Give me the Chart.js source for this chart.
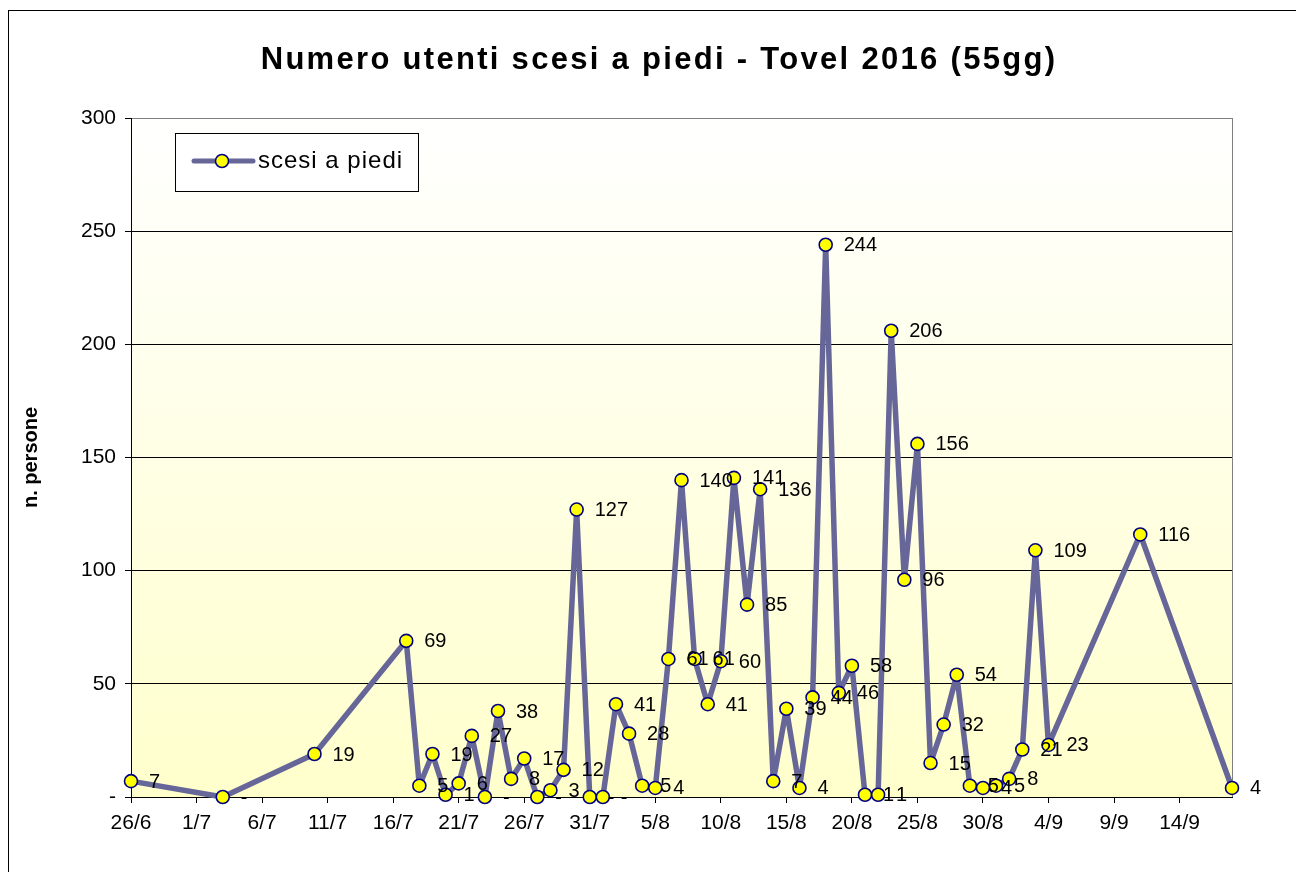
<!DOCTYPE html>
<html>
<head>
<meta charset="utf-8">
<title>Numero utenti scesi a piedi - Tovel 2016</title>
<script src="https://cdn.jsdelivr.net/npm/chart.js@4.4.1/dist/chart.umd.min.js"></script>
<style>
    html, body { margin: 0; padding: 0; background: #fff; }
    #wrap { width: 1296px; height: 872px; }
</style>
</head>
<body>
<div id="wrap"><canvas id="chart" width="1296" height="872"></canvas></div>
<script>
// Data
const chartTitle = 'Numero utenti scesi a piedi - Tovel 2016 (55gg)';
const seriesName = 'scesi a piedi';
const yAxisTitle = 'n. persone';

const dates = [
    '26/6', '3/7', '10/7',
    '17/7', '18/7', '19/7', '20/7', '21/7', '22/7', '23/7', '24/7', '25/7', '26/7',
    '27/7', '28/7', '29/7', '30/7', '31/7', '1/8', '2/8', '3/8', '4/8', '5/8',
    '6/8', '7/8', '8/8', '9/8', '10/8', '11/8', '12/8', '13/8', '14/8', '15/8',
    '16/8', '17/8', '18/8', '19/8', '20/8', '21/8', '22/8', '23/8', '24/8', '25/8',
    '26/8', '27/8', '28/8', '29/8', '30/8', '31/8', '1/9', '2/9', '3/9', '4/9',
    '11/9', '18/9'
];
const walkers = [
    7, 0, 19,
    69, 5, 19, 1, 6, 27, 0, 38, 8, 17,
    0, 3, 12, 127, 0, 0, 41, 28, 5, 4,
    61, 140, 61, 41, 60, 141, 85, 136, 7, 39,
    4, 44, 244, 46, 58, 1, 1, 206, 96, 156,
    15, 32, 54, 5, 4, 5, 8, 21, 109, 23,
    116, 4
];
const yMin = 0;
const yMax = 300;
const yStep = 50;
const xStep = 5;      // days between x tick labels
const xEndDate = '18/9';
const YEAR = 2016;

// Helpers: day offsets from the first date
const DAY = 86400000;
function parseDate(s) {
    const [d, m] = s.split('/').map(Number);
    return Date.UTC(YEAR, m - 1, d);
}
const startTime = parseDate(dates[0]);
function dayIndex(s) {
    return Math.round((parseDate(s) - startTime) / DAY);
}
function dayLabel(n) {
    const dt = new Date(startTime + n * DAY);
    return dt.getUTCDate() + '/' + (dt.getUTCMonth() + 1);
}
function fmt(v) {
    return v === 0 ? '-' : String(v);
}

const points = dates.map((d, i) => ({ x: dayIndex(d), y: walkers[i] }));

const FONT = "'Liberation Sans', Arial, sans-serif";
const LINE_COLOR = '#666699';
const MARKER_FILL = '#ffff00';
const MARKER_EDGE = '#000080';

// Background, frame, plot border
const plotBackground = {
    id: 'plotBackground',
    beforeDraw(chart) {
        const { ctx, chartArea: a } = chart;
        ctx.save();
        ctx.strokeStyle = '#000';
        ctx.lineWidth = 1;
        ctx.strokeRect(8.5, 10.5, 1400, 1000);
        const g = ctx.createLinearGradient(0, a.top, 0, a.bottom);
        g.addColorStop(0, '#ffffff');
        g.addColorStop(1, '#ffffcc');
        ctx.fillStyle = g;
        ctx.fillRect(a.left, a.top, a.right - a.left, a.bottom - a.top);
        ctx.restore();
    },
    beforeDatasetsDraw(chart) {
        const { ctx, chartArea: a } = chart;
        ctx.save();
        ctx.strokeStyle = '#808080';
        ctx.lineWidth = 1;
        ctx.beginPath();
        ctx.moveTo(Math.round(a.right) + 0.5, a.top);
        ctx.lineTo(Math.round(a.right) + 0.5, a.bottom);
        ctx.stroke();
        ctx.restore();
    }
};

// Value labels to the right of each point
const valueLabels = {
    id: 'valueLabels',
    afterDatasetsDraw(chart) {
        const { ctx } = chart;
        const meta = chart.getDatasetMeta(0);
        ctx.save();
        ctx.font = '20px ' + FONT;
        ctx.fillStyle = '#000';
        ctx.textAlign = 'left';
        ctx.textBaseline = 'middle';
        meta.data.forEach((pt, i) => {
            ctx.fillText(fmt(walkers[i]), pt.x + 18, pt.y + 1);
        });
        ctx.restore();
    }
};

// Title and boxed legend
const titleAndLegend = {
    id: 'titleAndLegend',
    afterDraw(chart) {
        const { ctx } = chart;
        ctx.save();
        ctx.fillStyle = '#000';
        ctx.font = 'bold 31px ' + FONT;
        ctx.letterSpacing = '2.3px';
        ctx.textAlign = 'center';
        ctx.textBaseline = 'alphabetic';
        ctx.fillText(chartTitle, 659, 69);

        // legend box
        ctx.letterSpacing = '1px';
        ctx.fillStyle = '#fff';
        ctx.fillRect(175, 133, 243, 58);
        ctx.strokeStyle = '#000';
        ctx.lineWidth = 1;
        ctx.strokeRect(175.5, 133.5, 243, 58);
        ctx.strokeStyle = LINE_COLOR;
        ctx.lineWidth = 5;
        ctx.lineCap = 'round';
        ctx.beginPath();
        ctx.moveTo(194, 161);
        ctx.lineTo(253, 161);
        ctx.stroke();
        ctx.beginPath();
        ctx.arc(222, 161, 6.5, 0, Math.PI * 2);
        ctx.fillStyle = MARKER_FILL;
        ctx.fill();
        ctx.lineWidth = 1.5;
        ctx.strokeStyle = MARKER_EDGE;
        ctx.stroke();
        ctx.fillStyle = '#000';
        ctx.font = '24px ' + FONT;
        ctx.textAlign = 'left';
        ctx.textBaseline = 'middle';
        ctx.fillText(seriesName, 258, 161);
        ctx.restore();
    }
};

document.addEventListener('DOMContentLoaded', function() {
    const canvas = document.getElementById('chart');
    new Chart(canvas.getContext('2d'), {
        type: 'line',
        data: {
            datasets: [{
                label: seriesName,
                data: points,
                borderColor: LINE_COLOR,
                borderWidth: 5.5,
                borderJoinStyle: 'round',
                borderCapStyle: 'round',
                tension: 0,
                pointRadius: 6.5,
                pointBackgroundColor: MARKER_FILL,
                pointBorderColor: MARKER_EDGE,
                pointBorderWidth: 1.6,
                clip: false
            }]
        },
        options: {
            responsive: false,
            animation: false,
            devicePixelRatio: 1,
            layout: { padding: { top: 118, right: 64, left: 0, bottom: 0 } },
            plugins: {
                legend: { display: false },
                title: { display: false },
                tooltip: { enabled: false }
            },
            scales: {
                x: {
                    type: 'linear',
                    min: 0,
                    max: dayIndex(xEndDate),
                    afterFit(scale) { scale.height = 75; },
                    grid: {
                        drawOnChartArea: false,
                        drawTicks: true,
                        tickLength: 6,
                        tickColor: '#000'
                    },
                    border: { color: '#000', width: 1 },
                    ticks: {
                        stepSize: xStep,
                        includeBounds: false,
                        autoSkip: false,
                        maxRotation: 0,
                        padding: 8,
                        color: '#000',
                        font: { family: FONT, size: 21 },
                        callback: (v) => dayLabel(v)
                    }
                },
                y: {
                    min: yMin,
                    max: yMax,
                    afterFit(scale) { scale.width = 131; },
                    grid: {
                        color: (c) => c.tick && c.tick.value === yMax ? '#808080' : '#000',
                        lineWidth: 1,
                        tickLength: 6,
                        tickColor: '#000'
                    },
                    border: { color: '#000', width: 1 },
                    ticks: {
                        stepSize: yStep,
                        padding: 9,
                        color: '#000',
                        font: { family: FONT, size: 21 },
                        callback: (v) => fmt(v)
                    },
                    title: {
                        display: true,
                        text: yAxisTitle,
                        color: '#000',
                        font: { family: FONT, size: 20, weight: 'bold' },
                        padding: { top: 19, bottom: 0 }
                    }
                }
            }
        },
        plugins: [plotBackground, valueLabels, titleAndLegend]
    });
});
</script>
</body>
</html>
